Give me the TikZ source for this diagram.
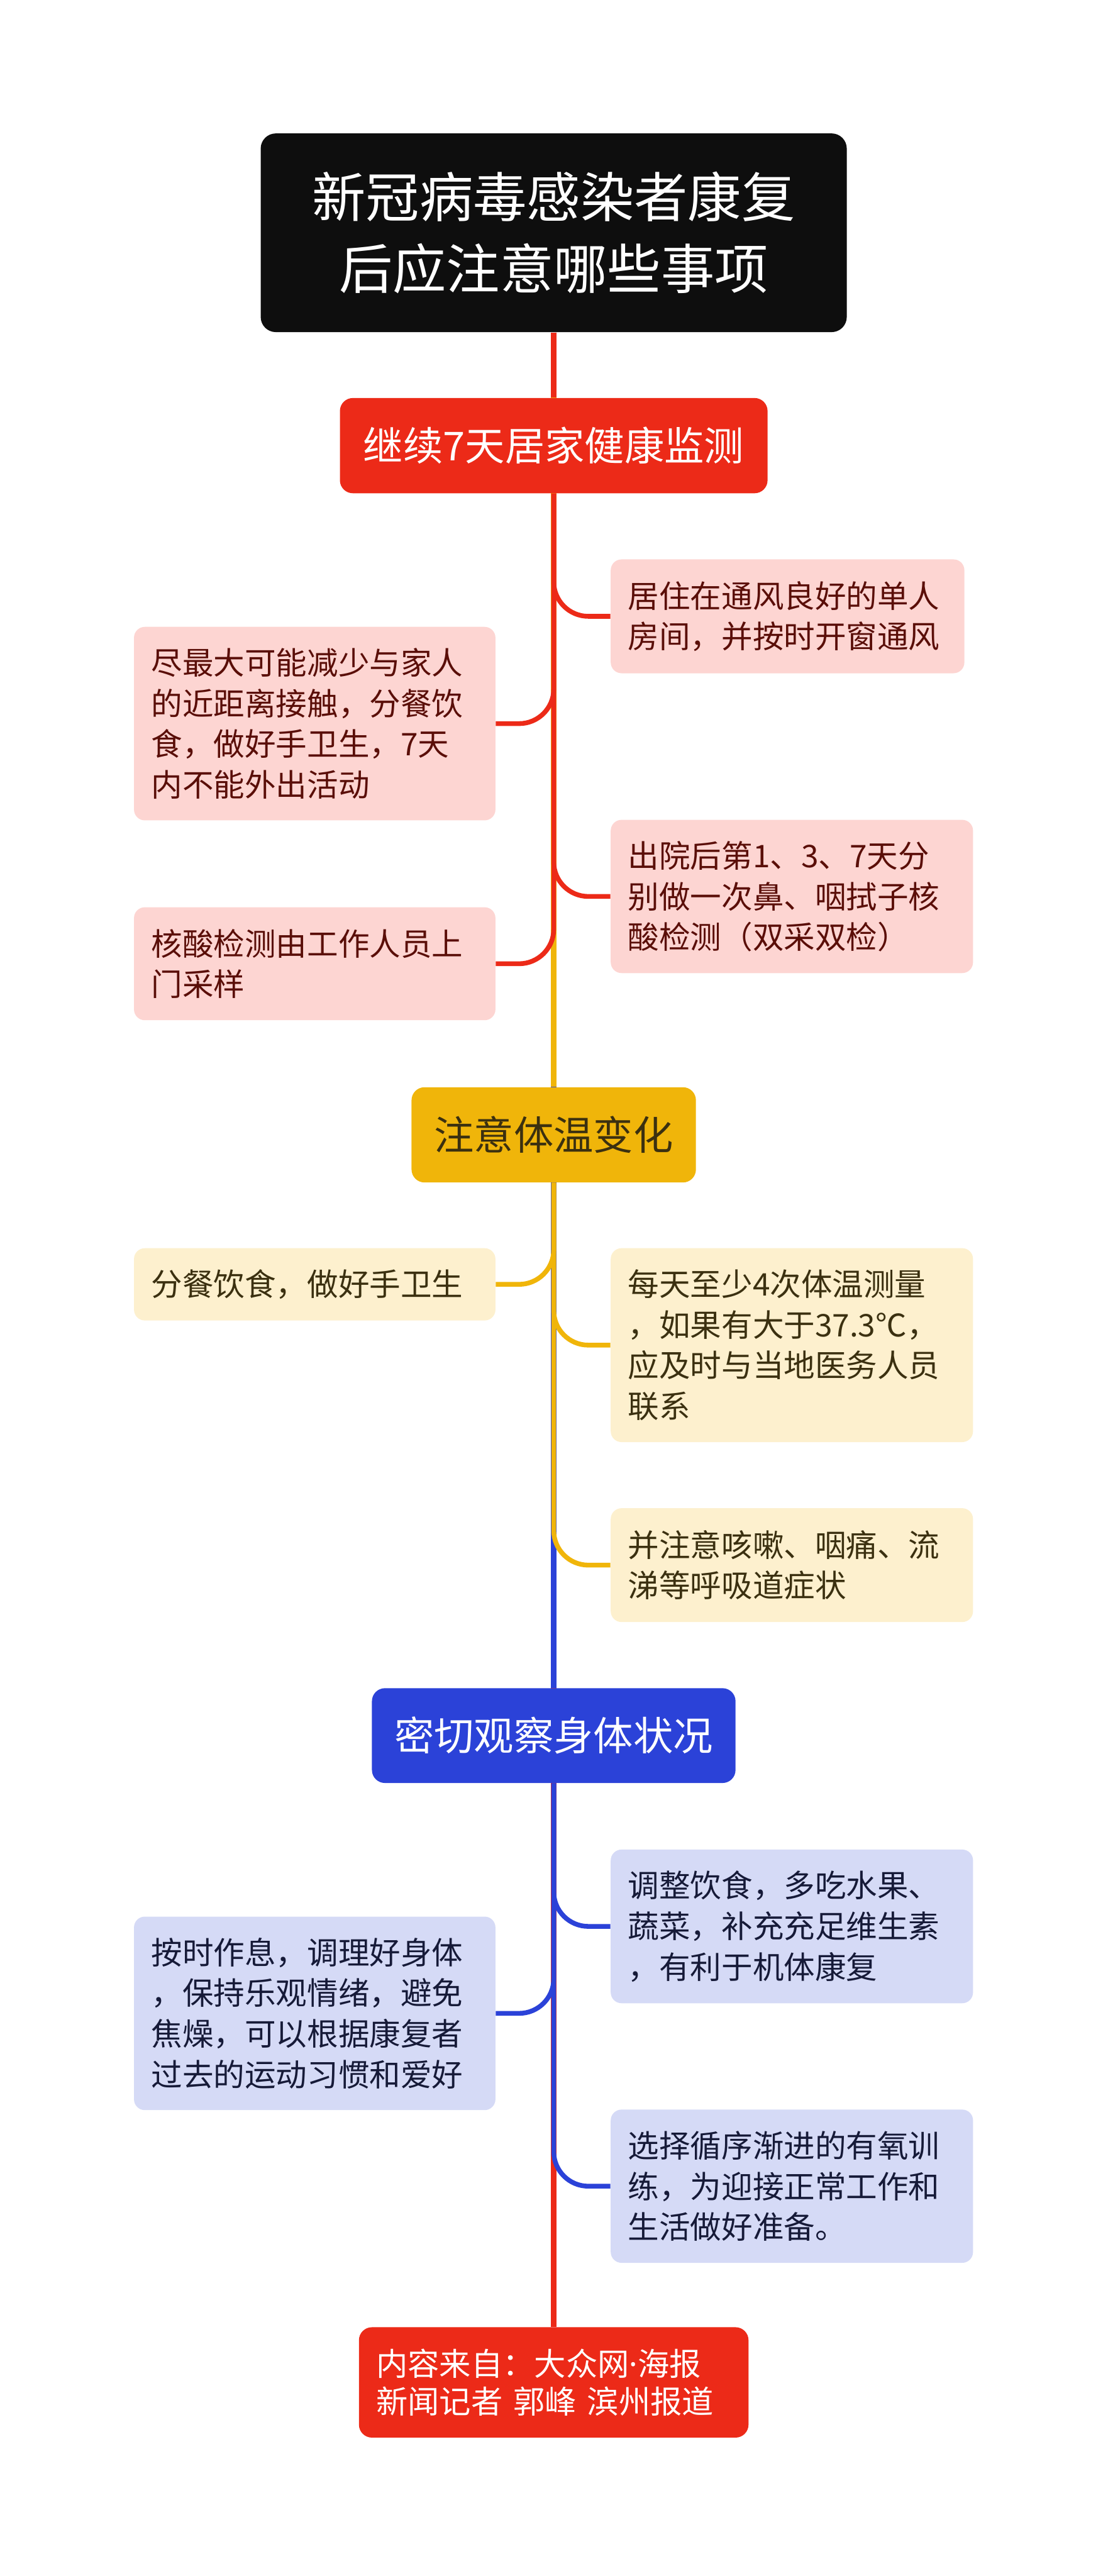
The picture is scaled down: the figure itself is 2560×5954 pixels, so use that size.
\documentclass[tikz,border=0pt]{standalone}
\usepackage{fontspec}
\setmainfont{Noto Sans CJK SC}
\newfontfamily\latinfnt{Noto Sans}
\usetikzlibrary{backgrounds}
\definecolor{cred}{HTML}{EC2A18}
\definecolor{cyel}{HTML}{F0B50A}
\definecolor{cblue}{HTML}{2B42D8}
\definecolor{croot}{HTML}{0E0E0E}
\definecolor{pinkfill}{HTML}{FDD5D2}
\definecolor{pinktext}{HTML}{5A0E08}
\definecolor{yelfill}{HTML}{FDF0CE}
\definecolor{yeltext}{HTML}{3B3010}
\definecolor{bluefill}{HTML}{D5DAF6}
\definecolor{bluetext}{HTML}{161A38}
\tikzset{
  box/.style={rectangle, inner sep=0pt, anchor=center},
  rootbox/.style={box, rounded corners=0.35cm, fill=croot, text=white, align=center,
    font=\fontsize{35.28pt}{47.23pt}\selectfont},
  branchbox/.style={box, rounded corners=0.3cm, align=center,
    font=\fontsize{26.18pt}{32pt}\selectfont},
  leafbox/.style={box, rounded corners=0.25cm, align=left,
    font=\fontsize{20.49pt}{26.75pt}\selectfont},
  leafred/.style={leafbox, fill=pinkfill, text=pinktext},
  leafyel/.style={leafbox, fill=yelfill, text=yeltext},
  leafblue/.style={leafbox, fill=bluefill, text=bluetext},
  trunk/.style={line width=0.14cm},
  leafline/.style={line width=0.11cm, rounded corners=0.8cm},
}
\begin{document}
\begin{tikzpicture}[x=0.01cm, y=-0.01cm]
\useasboundingbox (0,0) rectangle (2560,5954);

% root
\node[rootbox, minimum width=13.54cm, minimum height=4.59cm] (root) at (1280,538)
  {新冠病毒感染者康复\\后应注意哪些事项};

% branch 1
\node[branchbox, fill=cred, text=white, minimum width=9.88cm, minimum height=2.2cm] (b1) at (1280,1030)
  {继续7天居家健康监测};
\node[leafred, minimum width=8.17cm, minimum height=2.63cm, text width=7.37cm] (r1) at (1820.5,1424.5)
  {居住在通风良好的单人\\房间，并按时开窗通风};
\node[leafred, minimum width=8.35cm, minimum height=4.47cm, text width=7.55cm] (l1) at (727.5,1672.5)
  {尽最大可能减少与家人\\的近距离接触，分餐饮\\食，做好手卫生，7天\\内不能外出活动};
\node[leafred, minimum width=8.37cm, minimum height=3.54cm, text width=7.57cm] (r2) at (1830.5,2072)
  {出院后第1、3、7天分\\别做一次鼻、咽拭子核\\酸检测（双采双检）};
\node[leafred, minimum width=8.35cm, minimum height=2.61cm, text width=7.55cm] (l2) at (727.5,2227.5)
  {核酸检测由工作人员上\\门采样};

% branch 2
\node[branchbox, fill=cyel, text=yeltext, minimum width=6.57cm, minimum height=2.2cm] (b2) at (1280,2623)
  {注意体温变化};
\node[leafyel, minimum width=8.35cm, minimum height=1.67cm, text width=7.55cm] (l3) at (727.5,2968.5)
  {分餐饮食，做好手卫生};
\node[leafyel, minimum width=8.37cm, minimum height=4.48cm, text width=7.57cm] (r3) at (1830.5,3109)
  {每天至少4次体温测量\\，如果有大于37.3℃，\\应及时与当地医务人员\\联系};
\node[leafyel, minimum width=8.37cm, minimum height=2.63cm, text width=7.57cm] (r4) at (1830.5,3617.5)
  {并注意咳嗽、咽痛、流\\涕等呼吸道症状};

% branch 3
\node[branchbox, fill=cblue, text=white, minimum width=8.4cm, minimum height=2.19cm] (b3) at (1280,4011.5)
  {密切观察身体状况};
\node[leafblue, minimum width=8.37cm, minimum height=3.55cm, text width=7.57cm] (r5) at (1830.5,4452.5)
  {调整饮食，多吃水果、\\蔬菜，补充充足维生素\\，有利于机体康复};
\node[leafblue, minimum width=8.35cm, minimum height=4.47cm, text width=7.55cm] (l4) at (727.5,4653.5)
  {按时作息，调理好身体\\，保持乐观情绪，避免\\焦燥，可以根据康复者\\过去的运动习惯和爱好};
\node[leafblue, minimum width=8.37cm, minimum height=3.54cm, text width=7.57cm] (r6) at (1830.5,5053)
  {选择循序渐进的有氧训\\练，为迎接正常工作和\\生活做好准备。};

% footer
\node[box, rounded corners=0.3cm, fill=cred, text=white, align=left,
  font=\fontsize{20.8pt}{25.04pt}\selectfont,
  minimum width=9.0cm, minimum height=2.55cm, text width=8.2cm] (foot) at (1280,5506.5)
  {内容来自：大众网{\latinfnt ·}海报\\新闻记者 郭峰 滨州报道};

\begin{scope}[on background layer]
\draw[trunk, cred] (root.south) -- (foot.north);
\draw[trunk, cblue] (root.south) -- (b3.north);
\draw[trunk, cyel] (root.south) -- (b2.north);
\draw[trunk, cred] (root.south) -- (b1.north);
\draw[leafline, cred] (b1.south) |- (r1.west);
\draw[leafline, cred] (b1.south) |- (l1.east);
\draw[leafline, cred] (b1.south) |- (r2.west);
\draw[leafline, cred] (b1.south) |- (l2.east);
\draw[leafline, cyel] (b2.south) |- (l3.east);
\draw[leafline, cyel] (b2.south) |- (r3.west);
\draw[leafline, cyel] (b2.south) |- (r4.west);
\draw[leafline, cblue] (b3.south) |- (r5.west);
\draw[leafline, cblue] (b3.south) |- (l4.east);
\draw[leafline, cblue] (b3.south) |- (r6.west);
\end{scope}
\end{tikzpicture}
\end{document}
